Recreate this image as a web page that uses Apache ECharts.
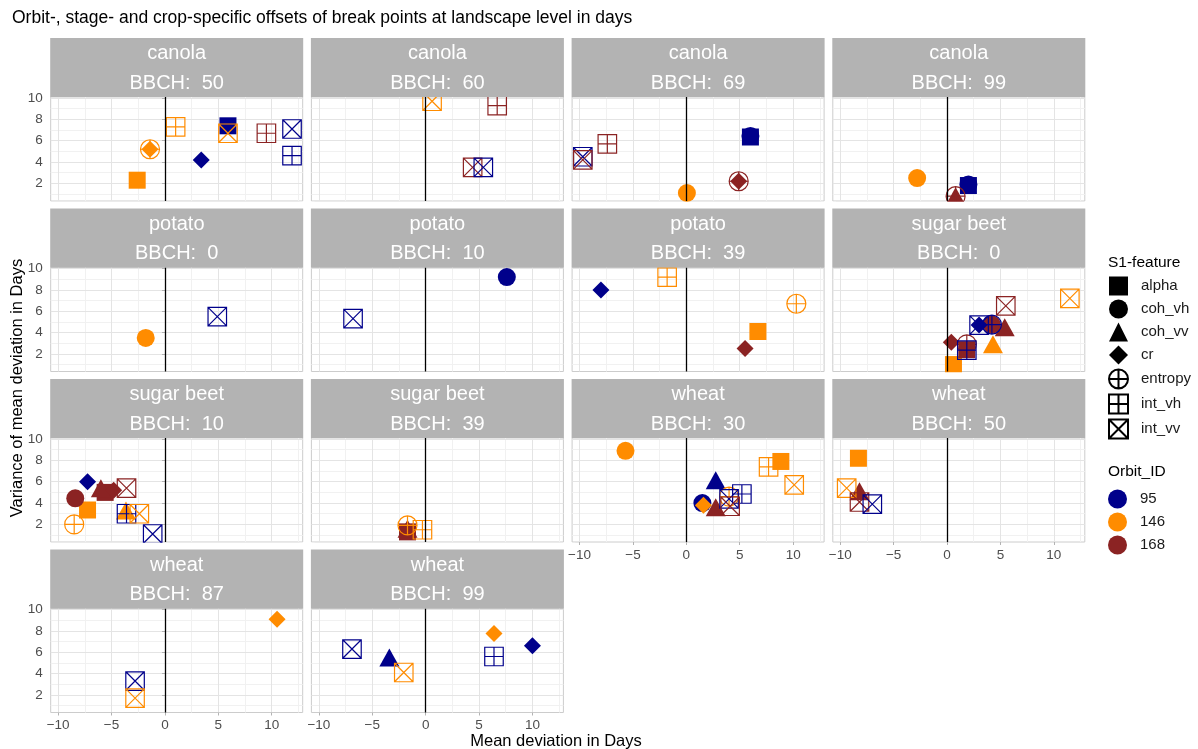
<!DOCTYPE html>
<html>
<head>
<meta charset="utf-8">
<script src="https://cdn.jsdelivr.net/npm/echarts@6/dist/echarts.min.js"></script>
<style>
  html, body { margin: 0; padding: 0; background: #ffffff; }
  #chart { width: 1198px; height: 749px; }
</style>
</head>
<body>
<div id="chart"></div>
<script>
// ---- data -------------------------------------------------------------
const features = ['alpha', 'coh_vh', 'coh_vv', 'cr', 'entropy', 'int_vh', 'int_vv'];
const orbits = ['95', '146', '168'];
const orbitColors = ['#00008B', '#FF8C00', '#8B2323'];

const xTicks = [-10, -5, 0, 5, 10];
const xMinorTicks = [-7.5, -2.5, 2.5, 7.5, 12.5];
const yTicks = [2, 4, 6, 8, 10];
const yMinorTicks = [1, 3, 5, 7, 9];

const panelCrop = ['canola', 'canola', 'canola', 'canola',
                   'potato', 'potato', 'potato', 'sugar beet',
                   'sugar beet', 'sugar beet', 'wheat', 'wheat',
                   'wheat', 'wheat'];
const panelStage = [50, 60, 69, 99, 0, 10, 39, 0, 10, 39, 30, 50, 87, 99];

// [mean deviation (days), variance of mean deviation (days), S1-feature, Orbit_ID]
const canola50 = [
  [-2.6, 2.3, 'alpha', '146'],
  [-1.4, 5.2, 'cr', '146'],
  [-1.4, 5.2, 'entropy', '146'],
  [1.0, 7.3, 'int_vh', '146'],
  [3.4, 4.2, 'cr', '95'],
  [5.9, 7.4, 'alpha', '95'],
  [5.9, 6.7, 'int_vv', '146'],
  [9.5, 6.7, 'int_vh', '168'],
  [11.9, 7.1, 'int_vv', '95'],
  [11.9, 4.6, 'int_vh', '95']
];
const canola60 = [
  [0.6, 9.7, 'int_vv', '146'],
  [6.7, 9.3, 'int_vh', '168'],
  [4.4, 3.5, 'int_vv', '168'],
  [5.4, 3.5, 'int_vv', '95']
];
const canola69 = [
  [-9.7, 4.5, 'int_vv', '95'],
  [-9.7, 4.2, 'int_vv', '168'],
  [-7.4, 5.7, 'int_vh', '168'],
  [0.05, 1.1, 'coh_vh', '146'],
  [4.9, 2.2, 'cr', '168'],
  [4.9, 2.2, 'entropy', '168'],
  [6.0, 6.45, 'coh_vh', '95'],
  [6.0, 6.35, 'alpha', '95']
];
const canola99 = [
  [-2.8, 2.5, 'coh_vh', '146'],
  [0.8, 0.8, 'coh_vv', '168'],
  [0.8, 0.8, 'entropy', '168'],
  [2.0, 1.9, 'coh_vh', '95'],
  [2.0, 1.8, 'alpha', '95']
];
const potato0 = [
  [-1.8, 3.5, 'coh_vh', '146'],
  [4.9, 5.5, 'int_vv', '95']
];
const potato10 = [
  [-6.8, 5.3, 'int_vv', '95'],
  [7.6, 9.2, 'coh_vh', '95']
];
const potato39 = [
  [-8.0, 8.0, 'cr', '95'],
  [-1.8, 9.2, 'int_vh', '146'],
  [10.3, 6.7, 'entropy', '146'],
  [6.7, 4.1, 'alpha', '146'],
  [5.5, 2.5, 'cr', '168']
];
const sugarBeet0 = [
  [0.6, 1.0, 'alpha', '146'],
  [0.4, 3.1, 'cr', '168'],
  [1.85, 2.4, 'alpha', '168'],
  [1.85, 2.9, 'entropy', '168'],
  [1.85, 2.35, 'int_vh', '95'],
  [4.3, 2.9, 'coh_vv', '146'],
  [4.2, 4.75, 'coh_vh', '168'],
  [4.2, 4.75, 'entropy', '95'],
  [5.4, 4.5, 'coh_vv', '168'],
  [3.0, 4.7, 'cr', '95'],
  [3.0, 4.7, 'int_vv', '95'],
  [5.5, 6.5, 'int_vv', '168'],
  [11.5, 7.2, 'int_vv', '146']
];
const sugarBeet10 = [
  [-7.25, 6.0, 'cr', '95'],
  [-8.4, 4.45, 'coh_vh', '168'],
  [-7.25, 3.35, 'alpha', '146'],
  [-8.5, 2.0, 'entropy', '146'],
  [-6.0, 5.4, 'coh_vv', '168'],
  [-5.6, 5.0, 'alpha', '168'],
  [-4.8, 5.2, 'cr', '168'],
  [-3.6, 5.4, 'int_vv', '168'],
  [-3.65, 3.3, 'coh_vv', '146'],
  [-3.6, 3.0, 'int_vh', '95'],
  [-2.4, 3.0, 'int_vv', '146'],
  [-1.15, 1.1, 'int_vv', '95']
];
const sugarBeet39 = [
  [-1.7, 1.3, 'alpha', '168'],
  [-1.7, 1.6, 'coh_vv', '168'],
  [-1.7, 1.9, 'entropy', '146'],
  [-0.3, 1.5, 'int_vh', '146']
];
const wheat30 = [
  [-5.7, 8.9, 'coh_vh', '146'],
  [7.7, 7.4, 'int_vh', '146'],
  [8.85, 7.9, 'alpha', '146'],
  [10.1, 5.7, 'int_vv', '146'],
  [2.75, 6.15, 'coh_vv', '95'],
  [5.2, 4.85, 'int_vh', '95'],
  [4.0, 4.6, 'entropy', '146'],
  [4.0, 4.4, 'int_vv', '95'],
  [4.1, 3.7, 'int_vv', '168'],
  [1.5, 4.0, 'coh_vh', '95'],
  [1.6, 3.8, 'cr', '146'],
  [2.75, 3.6, 'coh_vv', '168']
];
const wheat50 = [
  [-8.3, 8.2, 'alpha', '146'],
  [-9.4, 5.4, 'int_vv', '146'],
  [-8.2, 5.1, 'coh_vv', '168'],
  [-8.2, 4.1, 'int_vv', '168'],
  [-7.0, 3.9, 'int_vv', '95']
];
const wheat87 = [
  [10.5, 9.1, 'cr', '146'],
  [-2.8, 3.3, 'int_vv', '95'],
  [-2.8, 1.7, 'int_vv', '146']
];
const wheat99 = [
  [-6.9, 6.3, 'int_vv', '95'],
  [-3.4, 5.5, 'coh_vv', '95'],
  [-2.05, 4.1, 'int_vv', '146'],
  [6.4, 7.75, 'cr', '146'],
  [10.0, 6.6, 'cr', '95'],
  [6.4, 5.6, 'int_vh', '95']
];

const panelPoints = [canola50, canola60, canola69, canola99,
                     potato0, potato10, potato39, sugarBeet0,
                     sugarBeet10, sugarBeet39, wheat30, wheat50,
                     wheat87, wheat99];

// ---- layout & styling ---------------------------------------------------
const FONT = "'Liberation Sans', Arial, Helvetica, sans-serif";
const X_MIN = -10.7, X_MAX = 12.9;
const Y_MIN = 0.35, Y_MAX = 10.1;
const PLOT_LEFT0 = 50.7, COL_STEP = 260.7, PLOT_W = 252;
const PLOT_TOP0 = 97, ROW_STEP = 170.5, PLOT_H = 104;
const STRIP_H = 59;
const N_COLS = 4;
const bottomPanels = [10, 11, 12, 13];

const symbolShapes = {
  alpha: 'rect',
  coh_vh: 'circle',
  coh_vv: 'triangle',
  cr: 'diamond',
  entropy: 'path://M0,10A10,10 0 1 1 20,10A10,10 0 1 1 0,10ZM10,0L10,20M0,10L20,10',
  int_vh: 'path://M0,0L20,0L20,20L0,20ZM10,0L10,20M0,10L20,10',
  int_vv: 'path://M0,0L20,0L20,20L0,20ZM0,0L20,20M20,0L0,20'
};
const symbolSizes = {
  alpha: 17, coh_vh: 18, coh_vv: [20, 18], cr: 17,
  entropy: 19, int_vh: 18.5, int_vv: 18.5
};
const openFeatures = ['entropy', 'int_vh', 'int_vv'];
const orbitColor = o => orbitColors[orbits.indexOf(o)];

const minusFmt = v => (v < 0 ? '\u2212' + Math.abs(v) : String(v));

const grids = [], xAxes = [], yAxes = [], minorX = [], minorY = [];
const series = [], graphics = [];

panelPoints.forEach((pts, i) => {
  const col = i % N_COLS, row = Math.floor(i / N_COLS);
  const left = PLOT_LEFT0 + col * COL_STEP;
  const top = PLOT_TOP0 + row * ROW_STEP;
  const isBottom = bottomPanels.includes(i);
  const isLeft = col === 0;

  grids.push({
    left: left, top: top, width: PLOT_W, height: PLOT_H,
    show: true, borderColor: '#CCCCCC', borderWidth: 1,
    backgroundColor: 'transparent'
  });

  xAxes.push({
    type: 'value', gridIndex: i, min: X_MIN, max: X_MAX, z: 1,
    axisLine: { show: false },
    axisTick: { show: isBottom, length: 3, customValues: xTicks,
                lineStyle: { color: '#B3B3B3' } },
    axisLabel: { show: isBottom, customValues: xTicks, margin: 6,
                 color: '#4D4D4D', fontSize: 13.5, fontFamily: FONT,
                 formatter: minusFmt },
    splitLine: { show: true, lineStyle: { color: '#E4E4E4', width: 1 } }
  });
  yAxes.push({
    type: 'value', gridIndex: i, min: Y_MIN, max: Y_MAX, z: 1,
    axisLine: { show: false },
    axisTick: { show: isLeft, length: 3, customValues: yTicks,
                lineStyle: { color: '#B3B3B3' } },
    axisLabel: { show: isLeft, customValues: yTicks, margin: 8,
                 color: '#4D4D4D', fontSize: 13.5, fontFamily: FONT },
    splitLine: { show: true, lineStyle: { color: '#E4E4E4', width: 1 } }
  });
  // minor grid lines
  minorX.push({
    type: 'value', gridIndex: i, min: X_MIN, max: X_MAX, z: 0,
    axisLine: { show: false },
    axisTick: { show: false, customValues: xMinorTicks },
    axisLabel: { show: false },
    splitLine: { show: true, lineStyle: { color: '#F1F1F1', width: 1 } }
  });
  minorY.push({
    type: 'value', gridIndex: i, min: Y_MIN, max: Y_MAX, z: 0,
    axisLine: { show: false },
    axisTick: { show: false, customValues: yMinorTicks },
    axisLabel: { show: false },
    splitLine: { show: true, lineStyle: { color: '#F1F1F1', width: 1 } }
  });

  features.forEach(f => {
    const open = openFeatures.includes(f);
    series.push({
      type: 'scatter', name: f, xAxisIndex: i, yAxisIndex: i,
      symbol: symbolShapes[f], symbolSize: symbolSizes[f],
      itemStyle: open
        ? { color: 'rgba(0,0,0,0)', borderColor: '#000000', borderWidth: 1.2, opacity: 1 }
        : { color: '#000000', borderWidth: 0, opacity: 1 },
      emphasis: { disabled: true },
      silent: true,
      data: pts.filter(p => p[2] === f).map(p => ({
        value: [p[0], p[1]],
        itemStyle: open ? { borderColor: orbitColor(p[3]) } : { color: orbitColor(p[3]) }
      }))
    });
  });

  // vertical reference line at zero deviation
  series.push({
    type: 'scatter', name: 'zero-' + i, xAxisIndex: i, yAxisIndex: i,
    data: [], z: 5, silent: true,
    markLine: {
      silent: true, symbol: ['none', 'none'], label: { show: false },
      lineStyle: { color: '#000000', width: 1.3, type: 'solid', opacity: 1 },
      emphasis: { disabled: true },
      data: [{ xAxis: 0 }]
    }
  });

  // facet strip
  const stripTop = top - STRIP_H;
  graphics.push({
    type: 'rect', z: 100, silent: true,
    shape: { x: left - 0.5, y: stripTop, width: PLOT_W + 1, height: STRIP_H },
    style: { fill: '#B3B3B3' }
  });
  graphics.push({
    type: 'text', z: 101, silent: true,
    x: left + PLOT_W / 2, y: stripTop + 15.5,
    style: { text: panelCrop[i], fill: '#FFFFFF', fontSize: 20, fontFamily: FONT,
             align: 'center', verticalAlign: 'middle',
             textAlign: 'center', textVerticalAlign: 'middle' }
  });
  graphics.push({
    type: 'text', z: 101, silent: true,
    x: left + PLOT_W / 2, y: stripTop + 45,
    style: { text: 'BBCH:  ' + panelStage[i], fill: '#FFFFFF', fontSize: 20, fontFamily: FONT,
             align: 'center', verticalAlign: 'middle',
             textAlign: 'center', textVerticalAlign: 'middle' }
  });
  // keep symbols inside the panel at its lower edge
  if (!isBottom) {
    graphics.push({
      type: 'rect', z: 99, silent: true,
      shape: { x: left - 12, y: top + PLOT_H + 0.8, width: PLOT_W + 24,
               height: ROW_STEP - PLOT_H - STRIP_H - 0.8 },
      style: { fill: '#FFFFFF' }
    });
  }
});

// Orbit_ID legend entries
orbits.forEach((o, k) => {
  series.push({
    type: 'scatter', name: o, xAxisIndex: 0, yAxisIndex: 0, data: [],
    symbol: 'circle', itemStyle: { color: orbitColors[k], opacity: 1 }, silent: true
  });
});

// axis titles
graphics.push({
  type: 'text', silent: true,
  x: 556, y: 741,
  style: { text: 'Mean deviation in Days', fill: '#000000', fontSize: 16.5, fontFamily: FONT,
           align: 'center', verticalAlign: 'middle',
           textAlign: 'center', textVerticalAlign: 'middle' }
});
graphics.push({
  type: 'text', silent: true,
  x: 17, y: 388,
  rotation: Math.PI / 2,
  style: { text: 'Variance of mean deviation in Days', fill: '#000000', fontSize: 16.5, fontFamily: FONT,
           align: 'center', verticalAlign: 'middle',
           textAlign: 'center', textVerticalAlign: 'middle' }
});

const legendText = { fontSize: 15, color: '#1A1A1A', fontFamily: FONT, padding: [0, 0, 0, 8] };

const option = {
  animation: false,
  backgroundColor: '#FFFFFF',
  title: [
    { text: 'Orbit-, stage- and crop-specific offsets of break points at landscape level in days',
      left: 8, top: 5, padding: 4,
      textStyle: { fontSize: 17.5, fontWeight: 'normal', color: '#000000', fontFamily: FONT } },
    { text: 'S1-feature', left: 1106, top: 253, padding: 2,
      textStyle: { fontSize: 15.5, fontWeight: 'normal', color: '#000000', fontFamily: FONT } },
    { text: 'Orbit_ID', left: 1106, top: 462, padding: 2,
      textStyle: { fontSize: 15.5, fontWeight: 'normal', color: '#000000', fontFamily: FONT } }
  ],
  legend: [
    { orient: 'vertical', left: 1108, top: 276.5, padding: 0,
      itemWidth: 19, itemHeight: 19, itemGap: 4, selectedMode: false,
      data: features.map(f => ({ name: f, icon: symbolShapes[f] })),
      textStyle: legendText },
    { orient: 'vertical', left: 1108, top: 489.5, padding: 0,
      itemWidth: 19, itemHeight: 19, itemGap: 4, selectedMode: false,
      data: orbits.map(o => ({ name: o, icon: 'circle' })),
      textStyle: legendText }
  ],
  grid: grids,
  xAxis: xAxes.concat(minorX),
  yAxis: yAxes.concat(minorY),
  series: series,
  graphic: { elements: graphics }
};

const chart = echarts.init(document.getElementById('chart'), null, { renderer: 'canvas' });
chart.setOption(option);
</script>
</body>
</html>
